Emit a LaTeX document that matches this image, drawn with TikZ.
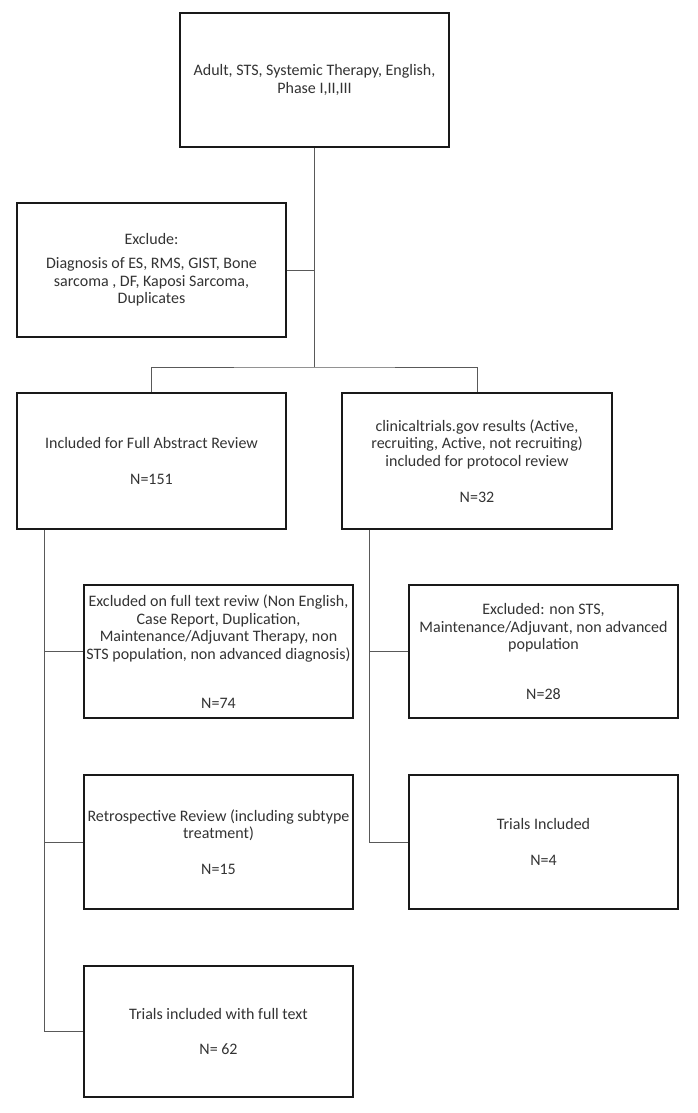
\documentclass[tikz,border=0pt]{standalone}
\usepackage{fontspec}
\setmainfont{Carlito}
\begin{document}
\begin{tikzpicture}[x=1pt,y=-1pt,
  box/.style={draw=black!90,line width=1.6pt,rectangle,minimum width=269pt,minimum height=134pt,
    align=center,inner sep=0pt,text=black!80,font=\fontsize{16}{17.6}\selectfont},
  conn/.style={draw=black!65,line width=1pt}]
\useasboundingbox[fill=white] (0,0) rectangle (697,1113);
\node[box] (top) at (314.5,80) {Adult, STS, Systemic Therapy, English,\\Phase I,II,III};
\node[box] (excl) at (151.5,270) {Exclude:\\[6.5pt]Diagnosis of ES, RMS, GIST, Bone\\sarcoma , DF, Kaposi Sarcoma,\\Duplicates};
\node[box,minimum height=136pt] (lbox) at (151.5,461) {Included for Full Abstract Review\\[17.5pt]N=151};
\node[box,minimum height=136pt,minimum width=270pt] (rbox) at (477,461) {clinicaltrials.gov results (Active,\\recruiting, Active, not recruiting)\\included for protocol review\\[18pt]N=32};
\node[box,minimum height=133pt] (ex1) at (218.5,651.5) {Excluded on full text reviw (Non English,\\Case Report, Duplication,\\Maintenance/Adjuvant Therapy, non\\STS population, non advanced diagnosis)\\[31pt]N=74};
\node[box,minimum height=133pt] (ex2) at (543.5,651.5) {Excluded: non STS,\\Maintenance/Adjuvant, non advanced\\population\\[32pt]N=28};
\node[box] (retro) at (218.5,842) {Retrospective Review (including subtype\\treatment)\\[18pt]N=15};
\node[box] (trinc) at (543.5,842) {Trials Included\\[18pt]N=4};
\node[box,minimum height=131pt] (ftext) at (218.5,1031.5) {Trials included with full text\\[17pt]N= 62};
\coordinate (j) at (314.5,367);
\coordinate (lt) at ([xshift=28pt]lbox.south west);
\coordinate (rt) at ([xshift=28pt]rbox.south west);
\draw[conn] (top.south) -- (j);
\draw[conn] (excl.east) -- (excl.east -| j);
\draw[conn] (lbox.north) |- (j) -| (rbox.north);
\draw[conn] (lt) |- (ftext.west);
\draw[conn] (ex1.west) -- (ex1.west -| lt);
\draw[conn] (retro.west) -- (retro.west -| lt);
\draw[conn] (rt) |- (trinc.west);
\draw[conn] (ex2.west) -- (ex2.west -| rt);
\end{tikzpicture}
\end{document}
